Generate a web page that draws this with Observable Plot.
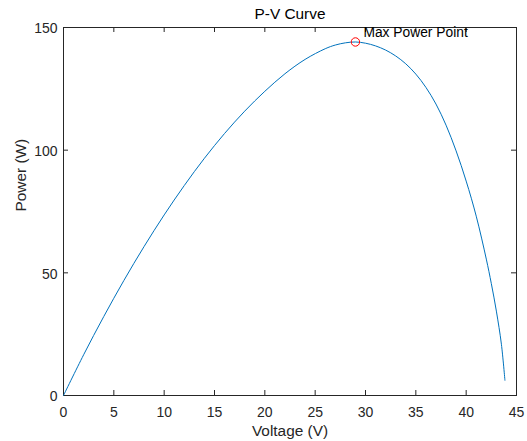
<!DOCTYPE html>
<html><head><meta charset="utf-8">
<script src="https://cdn.jsdelivr.net/npm/d3@7"></script>
<script src="https://cdn.jsdelivr.net/npm/@observablehq/plot@0.6"></script>
<style>body{margin:0;background:#fff}</style>
</head><body><div id="chart"></div>
<script>
const voltage = [0, 2, 4, 6, 8, 10, 12, 14, 16, 18, 20, 22, 24, 26, 27, 28, 29, 30, 31, 32, 33, 34, 35, 36, 37, 38, 39, 40, 41, 42, 42.5, 43, 43.5, 43.85];
const power   = [0, 16.6, 32.2, 46.9, 60.7, 73.6, 85.6, 96.7, 106.8, 115.9, 124.0, 131.15, 137.0, 141.35, 142.85, 143.75, 144.1, 143.6, 142.5, 140.8, 138.4, 135.2, 131.0, 125.6, 118.8, 110.2, 99.7, 87.4, 73.1, 55.6, 45.6, 34.4, 20.9, 6.2];
const mppVoltage = [29.0];
const mppPower = [144.1];
const xTicks = [0, 5, 10, 15, 20, 25, 30, 35, 40, 45];
const yTicks = [0, 50, 100, 150];
const titleText = "P-V Curve";
const xLabel = "Voltage (V)";
const yLabel = "Power (W)";
const mppLabel = "Max Power Point";

const W = 527, H = 441, mt = 27, mb = 46, ml = 63, mr = 11;
const innerH = H - mt - mb, innerW = W - ml - mr;
const tl = 5;
const axisColor = "#262626";
const curve = voltage.map((v, i) => ({v, p: power[i]}));
const mpp = mppVoltage.map((v, i) => ({v, p: mppPower[i]}));

const plot = Plot.plot({
  width: W, height: H,
  marginTop: mt, marginBottom: mb, marginLeft: ml, marginRight: mr,
  style: {fontFamily: "'Liberation Sans', Arial, Helvetica, sans-serif", fontSize: "14px", color: axisColor, background: "#fff"},
  x: {domain: [0, 45]},
  y: {domain: [0, 150]},
  marks: [
    Plot.axisX(xTicks, {tickSize: 0, tickPadding: 12, label: null, fill: axisColor, fontSize: 14}),
    Plot.axisY(yTicks, {tickSize: 0, tickPadding: 6, label: null, fill: axisColor, fontSize: 14, dy: 1.5}),
    Plot.tickX(xTicks, {x: d => d, insetTop: innerH - tl, stroke: axisColor}),
    Plot.tickX(xTicks, {x: d => d, insetBottom: innerH - tl, stroke: axisColor}),
    Plot.tickY(yTicks, {y: d => d, insetRight: innerW - tl, stroke: axisColor}),
    Plot.tickY(yTicks, {y: d => d, insetLeft: innerW - tl, stroke: axisColor}),
    Plot.frame({stroke: axisColor}),
    Plot.line(curve, {x: "v", y: "p", stroke: "#0072BD", strokeWidth: 1, curve: "catmull-rom"}),
    Plot.dot(mpp, {x: "v", y: "p", r: 4.2, stroke: "#FF0000", fill: "none", strokeWidth: 1}),
    Plot.text(mpp, {x: "v", y: "p", text: d => mppLabel, textAnchor: "start", lineAnchor: "middle", dx: 8, dy: -9.3, fill: "#000", fontSize: 13.8}),
    Plot.text([titleText], {frameAnchor: "top", lineAnchor: "middle", dy: -13, fontSize: 15.4, fill: "#000"}),
    Plot.text([xLabel], {frameAnchor: "bottom", lineAnchor: "middle", dy: 36, fontSize: 15.4, fill: axisColor}),
    Plot.text([yLabel], {frameAnchor: "left", lineAnchor: "middle", rotate: -90, dx: -42.8, fontSize: 15.4, fill: axisColor})
  ]
});
document.getElementById("chart").appendChild(plot);
</script>
</body></html>
